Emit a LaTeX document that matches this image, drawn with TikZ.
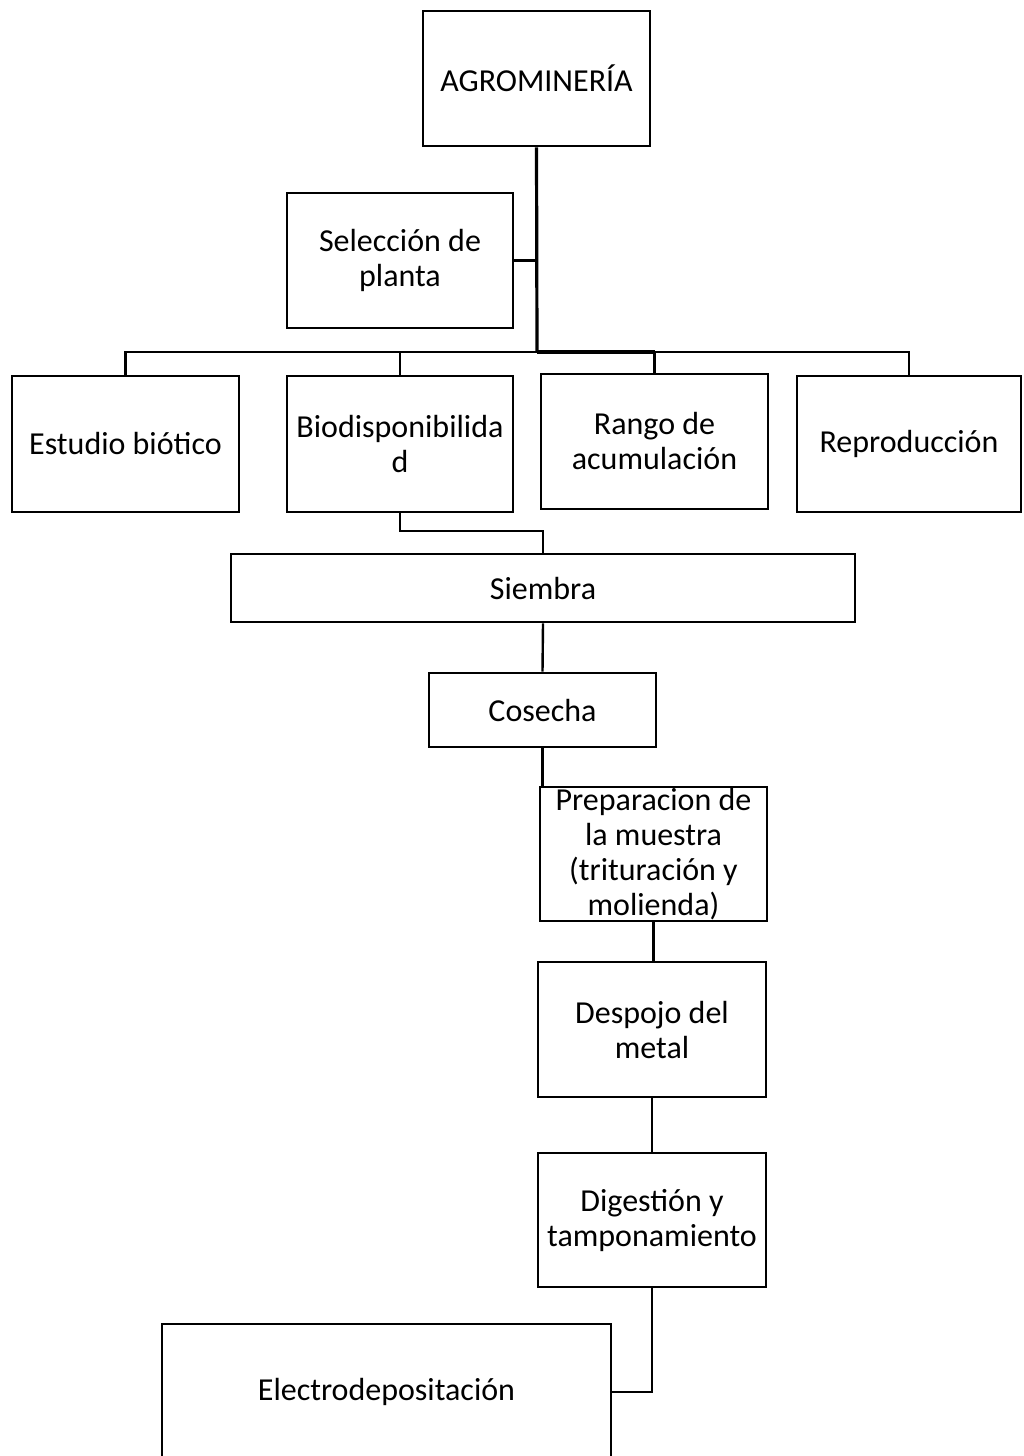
\documentclass[tikz,border=0pt]{standalone}
\usepackage{fontspec}
\setmainfont{Carlito}
\begin{document}
\begin{tikzpicture}[x=1pt,y=-1pt,
  box/.style={draw, line width=2.6pt, rectangle, inner sep=0pt, align=center,
    font=\fontsize{32}{35}\selectfont},
  link/.style={line width=2.4pt},
  trunk/.style={line width=3.2pt}]
\useasboundingbox (0,0) rectangle (1023,1456);

% boxes
\node[box, minimum width=227pt, minimum height=135pt] (agro) at (536.5,78.5) {AGROMINERÍA};
\node[box, minimum width=226pt, minimum height=135pt] (sel) at (400,260.5) {Selección de\\planta};
\node[box, minimum width=227pt, minimum height=136pt] (estudio) at (125.5,444) {Estudio biótico};
\node[box, minimum width=226pt, minimum height=136pt] (bio) at (400,444) {Biodisponibilida\\d};
\node[box, minimum width=227pt, minimum height=135pt] (rango) at (654.5,441.5) {Rango de\\acumulación};
\node[box, minimum width=224pt, minimum height=136pt] (repro) at (909,444) {Reproducción};
\node[box, minimum width=624pt, minimum height=68pt] (siembra) at (543,588) {Siembra};
\node[box, minimum width=227pt, minimum height=74pt] (cosecha) at (542.5,710) {Cosecha};
\node[box, minimum width=227pt, minimum height=134pt] (prep) at (653.5,854) {Preparacion de\\la muestra\\(trituración y\\molienda)};
\node[box, minimum width=228pt, minimum height=135pt] (despojo) at (652,1029.5) {Despojo del\\metal};
\node[box, minimum width=228pt, minimum height=134pt] (dig) at (652,1220) {Digestión y\\tamponamiento};
\node[box, minimum width=449pt, minimum height=136pt] (electro) at (386.5,1392) {Electrodepositación};

% helper points
\coordinate (bus) at (537,352);
\coordinate (biobend) at (0,531);

% tree connectors
\draw[trunk] (agro.south) -- (bus);
\draw[link] (sel.east) -- (sel.east -| bus);
\draw[link] (estudio.north) -- (estudio.north |- bus) -- (repro.north |- bus) -- (repro.north);
\draw[trunk] (bus) -- (rango.north |- bus);
\draw[link] (bio.north) -- (bio.north |- bus);
\draw[link] (rango.north) -- (rango.north |- bus);

% process chain
\draw[link] (bio.south) -- (bio.south |- biobend) -| (siembra.north);
\draw[link] (siembra.south) -- (cosecha.north);
\draw[link] (cosecha.south) -- (cosecha.south |- prep.north);
\draw[link] (prep.south) -- (prep.south |- despojo.north);
\draw[link] (despojo.south) -- (dig.north);
\draw[link] (dig.south) |- (electro.east);
\end{tikzpicture}
\end{document}
